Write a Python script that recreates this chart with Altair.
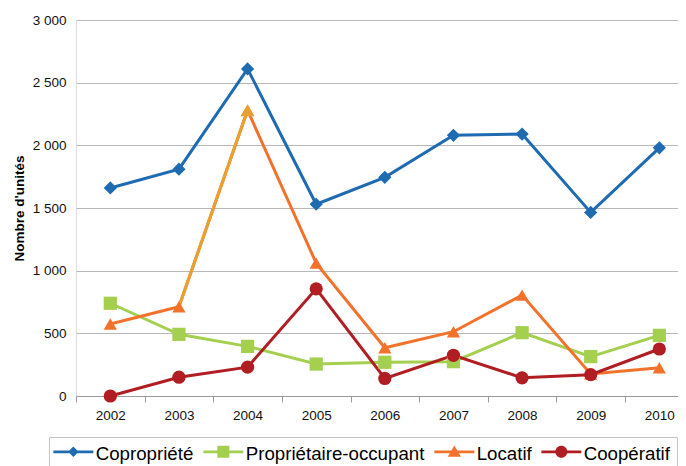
import altair as alt
import pandas as pd

years = [2002, 2003, 2004, 2005, 2006, 2007, 2008, 2009, 2010]
series_names = ["Copropriété", "Propriétaire-occupant", "Locatif", "Coopératif"]
copropriete = [1660, 1810, 2610, 1530, 1745, 2080, 2090, 1465, 1980]
proprietaire = [740, 492, 396, 255, 269, 274, 505, 314, 484]
locatif = [575, 712, 2280, 1060, 385, 513, 805, 176, 226]
cooperatif = [0, 150, 230, 855, 140, 325, 145, 170, 375]
colors = ["#1F6BB2", "#A5CF4F", "#F3722B", "#B01E24"]
highlight_color = "#E8A030"
highlight_series = "Locatif"
highlight_years = [2003, 2004]
y_ticks = [0, 500, 1000, 1500, 2000, 2500, 3000]
y_title = "Nombre d'unités"

plot_shapes = ["diamond", "square", "triangle-up", "circle"]
# legend symbols: line segment + marker (unit-box custom paths, drawn slightly above centre)
_line = "M-2.857,-0.49L2.857,-0.49L2.857,-0.09L-2.857,-0.09Z"
legend_shapes = [
    _line + "M0,-1.04L0.75,-0.29L0,0.46L-0.75,-0.29Z",
    _line + "M-0.86,-1.15L0.86,-1.15L0.86,0.57L-0.86,0.57Z",
    _line + "M0,-1.19L0.95,0.43L-0.95,0.43Z",
    _line + "M-0.86,-0.29A0.86,0.86 0 1,1 0.86,-0.29A0.86,0.86 0 1,1 -0.86,-0.29Z",
]

rows = []
for name, vals in zip(series_names, [copropriete, proprietaire, locatif, cooperatif]):
    for yr, v in zip(years, vals):
        rows.append({"series": name, "year": yr, "value": v})
df = pd.DataFrame(rows)

FONT = "Liberation Sans"

x_enc = alt.X(
    "year:Q",
    scale=alt.Scale(domain=[2001.5, 2010.272], nice=False, zero=False),
    axis=alt.Axis(
        values=[y - 0.5 for y in years],
        labelExpr="format(datum.value + 0.5, 'd')",
        labelOffset=34.3,
        labelFlush=False,
        labelOverlap=False,
        labelBound=False,
        tickSize=6,
        tickColor="#9a9a9a",
        domainColor="#9a9a9a",
        grid=False,
        labelPadding=6,
        labelFontSize=13.5,
        labelColor="#111111",
        labelFont=FONT,
        title=None,
    ),
)
y_enc = alt.Y(
    "value:Q",
    scale=alt.Scale(domain=[0, 3000], nice=False),
    axis=alt.Axis(
        values=y_ticks,
        labelExpr="replace(format(datum.value, ','), ',', ' ')",
        domain=False,
        ticks=False,
        gridColor="#b8b8b8",
        labelPadding=10,
        labelFontSize=13.5,
        labelColor="#111111",
        labelFont=FONT,
        title=y_title,
        titleFont=FONT,
        titleFontSize=13.5,
        titleFontWeight="bold",
        titleColor="#000000",
        titleX=-53,
        titleY=188,
        titleAngle=270,
        titleAlign="center",
        titleBaseline="alphabetic",
    ),
)
color_scale = alt.Scale(domain=series_names, range=colors)

base = alt.Chart(df)

lines = base.mark_line(strokeWidth=3).encode(
    x=x_enc, y=y_enc,
    color=alt.Color("series:N", scale=color_scale, legend=None),
    detail="series:N",
)

hl_line = base.mark_line(strokeWidth=3, color=highlight_color).transform_filter(
    alt.FieldEqualPredicate(field="series", equal=highlight_series)
).transform_filter(
    alt.FieldOneOfPredicate(field="year", oneOf=highlight_years)
).encode(x=x_enc, y=y_enc)

points = base.mark_point(filled=True, size=175, opacity=1).encode(
    x=x_enc, y=y_enc,
    color=alt.Color("series:N", scale=color_scale, legend=None),
    shape=alt.Shape("series:N", scale=alt.Scale(domain=series_names, range=plot_shapes), legend=None),
)

hl_point = base.mark_point(filled=True, size=190, opacity=1, shape="triangle-up",
                           color=highlight_color).transform_filter(
    alt.FieldEqualPredicate(field="series", equal=highlight_series)
).transform_filter(
    alt.FieldEqualPredicate(field="year", equal=highlight_years[-1])
).encode(x=x_enc, y=y_enc)

legend_kw = dict(
    orient="none", legendX=-27, legendY=417, direction="horizontal", title=None,
    labelFont=FONT, labelFontSize=18.7, labelColor="#000000", labelLimit=400,
    symbolSize=196, symbolStrokeWidth=0, symbolOffset=8, labelOffset=13,
    columnPadding=9, padding=7, strokeColor="#c4c4c4", fillColor="#ffffff",
    symbolOpacity=1,
)

legend_layer = base.mark_point(filled=True, opacity=1).transform_filter("false").encode(
    x=x_enc, y=y_enc,
    color=alt.Color("series:N", scale=alt.Scale(domain=series_names, range=colors),
                    legend=alt.Legend(**legend_kw)),
    shape=alt.Shape("series:N", scale=alt.Scale(domain=series_names, range=legend_shapes),
                    legend=alt.Legend(**legend_kw)),
)

chart = alt.layer(lines, hl_line, points, hl_point, legend_layer).resolve_scale(
    shape="independent", color="independent"
).properties(
    width=602, height=376,
    autosize=alt.AutoSizeParams(type="none"),
    padding={"left": 68, "top": 12, "right": 0, "bottom": 72},
).configure_view(stroke=None).configure(background="white")

chart.save("out.html", embed_options={"renderer": "svg", "actions": False})
